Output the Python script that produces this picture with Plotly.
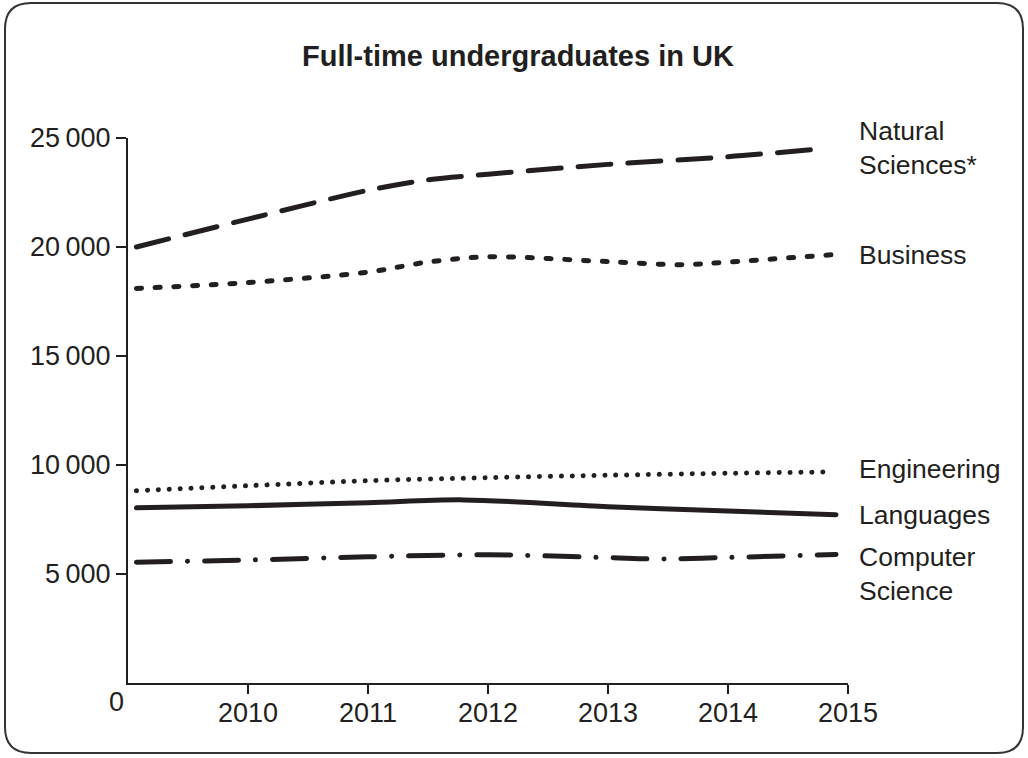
import plotly.graph_objects as go

# ---- data ----
title_text = "Full-time undergraduates in UK"

ns_x = [2009.07, 2010, 2011, 2011.5, 2012, 2013, 2014, 2014.8]
ns_y = [20000, 21280, 22600, 23080, 23340, 23790, 24140, 24520]

bus_x = [2009.07, 2010, 2011, 2011.5, 2012, 2013, 2013.6, 2014, 2014.9]
bus_y = [18100, 18370, 18850, 19310, 19550, 19330, 19190, 19310, 19660]

eng_x = [2009.07, 2010, 2011, 2012, 2013, 2014, 2014.8]
eng_y = [8820, 9050, 9280, 9420, 9530, 9620, 9680]

lang_x = [2009.07, 2010, 2011, 2011.8, 2013, 2014, 2014.9]
lang_y = [8040, 8130, 8270, 8400, 8090, 7890, 7720]

cs_x = [2009.07, 2010, 2011, 2012, 2013, 2013.4, 2014, 2014.9]
cs_y = [5540, 5640, 5790, 5880, 5750, 5690, 5760, 5900]

x_ticks = [2010, 2011, 2012, 2013, 2014, 2015]
y_ticks = [5000, 10000, 15000, 20000, 25000]
y_ticktext = ["5\u2009000", "10\u2009000", "15\u2009000", "20\u2009000", "25\u2009000"]

labels = ["Natural<br>Sciences*", "Business", "Engineering", "Languages", "Computer<br>Science"]

# ---- layout geometry ----
W, H = 1028, 758
L, R, T, B = 128, 180, 138, 75
PW, PH = W - L - R, H - T - B
INK = "#231f20"
FONT = "Liberation Sans, Arial, Helvetica, sans-serif"


def px(xp):
    return (xp - L) / PW


def py(yp):
    return (H - B - yp) / PH


fig = go.Figure()

series = [
    (ns_x, ns_y, "33px,17px", 5),
    (bus_x, bus_y, "5px,13.7px", 5),
    (eng_x, eng_y, "0.1px,10.8px", 5),
    (lang_x, lang_y, "solid", 5),
    (cs_x, cs_y, "34px,17px,0.1px,17px", 5),
]
for (xs, ys, dash, w), name in zip(series, labels):
    fig.add_trace(go.Scatter(
        x=xs, y=ys, mode="lines", name=name.replace("<br>", " "),
        line=dict(color=INK, width=w, dash=dash, shape="spline", smoothing=0.9),
        hoverinfo="skip", showlegend=False,
    ))

# right-hand series labels
label_pos = [148, 255, 469, 515, 574]
for text, yp in zip(labels, label_pos):
    fig.add_annotation(
        x=px(857), y=py(yp), xref="paper", yref="paper",
        text=text, showarrow=False, xanchor="left", yanchor="middle",
        align="left", font=dict(family=FONT, size=26.5, color=INK),
    )

# "0" at the origin corner
fig.add_annotation(
    x=px(116), y=py(702), xref="paper", yref="paper", text="0",
    showarrow=False, xanchor="center", yanchor="middle",
    font=dict(family=FONT, size=27, color=INK),
)

# rounded border
x0, y0, x1, y1, r = 5, 3, 1023, 753, 26
path = (
    f"M {px(x0 + r)},{py(y0)} L {px(x1 - r)},{py(y0)} "
    f"Q {px(x1)},{py(y0)} {px(x1)},{py(y0 + r)} "
    f"L {px(x1)},{py(y1 - r)} Q {px(x1)},{py(y1)} {px(x1 - r)},{py(y1)} "
    f"L {px(x0 + r)},{py(y1)} Q {px(x0)},{py(y1)} {px(x0)},{py(y1 - r)} "
    f"L {px(x0)},{py(y0 + r)} Q {px(x0)},{py(y0)} {px(x0 + r)},{py(y0)} Z"
)
fig.add_shape(type="path", path=path, xref="paper", yref="paper",
              line=dict(color="#333333", width=2), layer="below")

fig.update_layout(
    width=W, height=H,
    margin=dict(l=L, r=R, t=T, b=B, pad=0),
    paper_bgcolor="white", plot_bgcolor="white",
    title=dict(text="<b>" + title_text + "</b>", x=518 / W, y=1 - 56 / H,
               xanchor="center", yanchor="middle",
               font=dict(family=FONT, size=29, color=INK)),
    font=dict(family=FONT, size=27, color=INK),
)
fig.update_xaxes(
    range=[2009, 2015], tickvals=x_ticks, ticktext=[str(v) for v in x_ticks],
    showline=True, linewidth=2, linecolor=INK, showgrid=False, zeroline=False,
    ticks="outside", ticklen=9, tickwidth=2, tickcolor=INK,
    ticklabelstandoff=-4,
    tickfont=dict(family=FONT, size=27, color=INK),
)
fig.update_yaxes(
    range=[0, 25000], tickvals=y_ticks, ticktext=y_ticktext,
    showline=True, linewidth=2, linecolor=INK, showgrid=False, zeroline=False,
    ticks="outside", ticklen=10, tickwidth=2, tickcolor=INK,
    tickfont=dict(family=FONT, size=27, color=INK),
)

post = (
    "document.body.style.margin='0';"
    "document.querySelectorAll('path.js-line').forEach(function(e){"
    "e.style.strokeLinecap='round';e.style.strokeLinejoin='round';});"
)
fig.write_html("out.html", post_script=post, config={"displayModeBar": False})
